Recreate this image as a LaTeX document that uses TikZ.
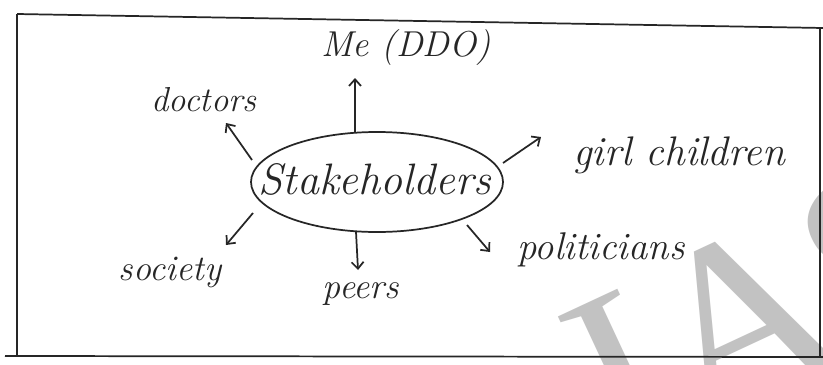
\documentclass[tikz,border=0pt]{standalone}
\usepackage{fontspec}
\newfontfamily\wmfont{Liberation Serif}
\usetikzlibrary{arrows.meta,shapes.geometric}
\begin{document}
\begin{tikzpicture}[x=0.75pt,y=-0.75pt,
  ink/.style={line width=1.3pt,draw=black!85},
  arr/.style={ink,-{Straight Barb[length=5pt,width=9pt]}},
  hand/.style={font=\fontsize{27}{30}\selectfont\itshape,text=black!85,inner sep=1pt},
  wm/.style={font=\fontsize{188}{188}\wmfont,text=black!24,inner sep=0pt,rotate=25}]
\useasboundingbox (0,0) rectangle (823,364);
\fill[white] (0,0) rectangle (823,364);
% watermark
\begin{scope}
\clip (0,0) rectangle (823,364);
\node[wm,anchor=north] (wmI) at (588,303) {I};
\node[wm,anchor=north] (wmA) at (706,246) {A};
\node[wm,anchor=north] (wmS) at (842,178) {S};
\end{scope}
% border
\draw[ink] (17,14) -- (823,28);
\draw[ink] (17,14) -- (17,356);
\draw[ink] (5,356) -- (823,357);
\draw[ink] (820,28) -- (820,357);
% center
\node[ink,ellipse,minimum width=189pt,minimum height=75pt] (c) at (377,182) {};
\node[hand,font=\fontsize{33}{35}\selectfont\itshape] (ct) at (375,179) {Stakeholders};
% labels
\node[hand] (me) at (406,48) {Me (DDO)};
\node[hand,font=\fontsize{26}{30}\selectfont\itshape] (doc) at (204,100) {doctors};
\node[hand,font=\fontsize{31}{34}\selectfont\itshape] (girl) at (679,155) {girl children};
\node[hand,font=\fontsize{29}{32}\selectfont\itshape] (pol) at (601,250) {politicians};
\node[hand] (peer) at (361,294) {peers};
\node[hand] (soc) at (170,272) {society};
% arrow ends
\coordinate (s1) at (355,132); \coordinate (a1) at (355,78);
\coordinate (s2) at (252,160); \coordinate (a2) at (226,123);
\coordinate (s3) at (503,163); \coordinate (a3) at (541,137);
\coordinate (s4) at (467,225); \coordinate (a4) at (490,252);
\coordinate (s5) at (356,232); \coordinate (a5) at (358,270);
\coordinate (s6) at (253,213); \coordinate (a6) at (226,245);
\draw[arr] (s1) -- (a1);
\draw[arr] (s2) -- (a2);
\draw[arr] (s3) -- (a3);
\draw[arr] (s4) -- (a4);
\draw[arr] (s5) -- (a5);
\draw[arr] (s6) -- (a6);
\end{tikzpicture}
\end{document}
